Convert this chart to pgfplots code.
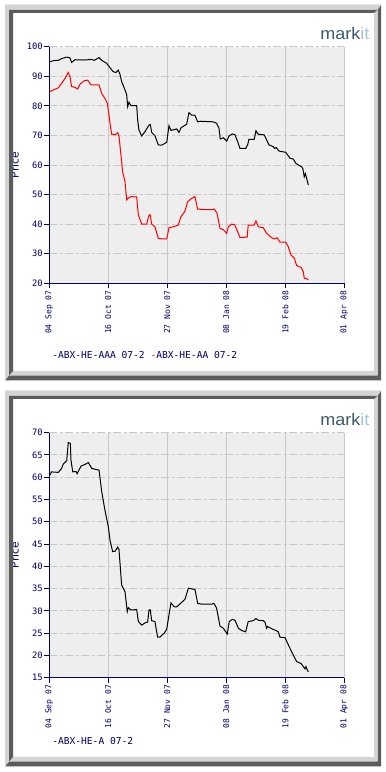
\documentclass[border=0pt]{standalone}
\usepackage{fontspec}
\setmainfont{DejaVu Sans}
\setmonofont{DejaVu Sans Mono}
\newfontfamily\logofont{Liberation Sans}
\usepackage{pgfplots}
\pgfplotsset{compat=1.18}
\definecolor{navy}{RGB}{0,0,102}
\definecolor{plotbg}{RGB}{238,238,238}
\definecolor{gridc}{RGB}{200,200,200}
\definecolor{frL}{RGB}{212,212,212}
\definecolor{frD}{RGB}{92,92,92}
\definecolor{logoA}{RGB}{60,90,107}
\definecolor{logoB}{RGB}{166,197,207}
\pgfplotsset{markitstyle/.style={
  scale only axis, width=221.25pt,
  xmin=0, xmax=210, xtick={0,42,84,126,168,210},
  xticklabels={04 Sep 07,16 Oct 07,27 Nov 07,08 Jan 08,19 Feb 08,01 Apr 08},
  axis x line*=bottom, axis y line*=left,
  axis line style={-, navy, line width=0.75pt},
  tick style={navy, line width=0.75pt},
  major tick length=3.75pt, tick align=outside,
  xmajorgrids, ymajorgrids,
  x grid style={gridc, line width=0.75pt, solid},
  y grid style={gridc, line width=0.75pt, dash pattern=on 6pt off 2pt on 2pt off 2pt},
  axis background/.style={fill=plotbg},
  /pgf/number format/assume math mode=true,
  x tick label style={font=\ttfamily\fontsize{6}{7}\selectfont, text=navy, rotate=90, anchor=east, inner sep=1.5pt},
  y tick label style={font=\ttfamily\fontsize{6.6}{7}\selectfont, text=navy, inner sep=1pt},
  clip=true,
}}
\newcommand\panelframe[1]{%
  \begin{scope}[shift={(0,#1)}]
    \fill[frD,even odd rule] (5,5) rectangle (381,380.5) (9,10) rectangle (377.5,375.5);
    \fill[frL] (5,380.5) -- (5,5) -- (381,5) -- (377.5,10) -- (9,10) -- (9,375.5) -- cycle;
    \fill[frL,even odd rule] (9,10) rectangle (377.5,375.5) (13,13) rectangle (374,371);
    \fill[frD] (9,375.5) -- (9,10) -- (377.5,10) -- (374,13) -- (13,13) -- (13,371) -- cycle;
  \end{scope}}
\begin{document}
\begin{tikzpicture}
\useasboundingbox (0,0) rectangle (289.5pt,579pt);
\fill[white] (0,0) rectangle (289.5pt,579pt);

% ---------- top panel ----------
\begin{axis}[markitstyle, at={(36.975pt,366.525pt)}, anchor=south west,
  height=177.45pt, ymin=20, ymax=100, ytick={20,30,...,100}]
\addplot[black, line width=0.75pt] coordinates {
(0.5,94.9)(3,95.3)(6.4,95.4)(9,96.0)(12.4,96.5)(14.7,96.2)(15.9,94.7)(18.3,95.6)
(24,95.5)(27.8,95.6)(29.9,95.7)(32,95.4)(35.4,96.3)(37.3,95.4)(40.8,94.4)(43.2,92.9)
(45.6,91.5)(47.5,91.3)(49.1,92.1)(50.3,90.7)(51.5,88.2)(53.9,85.4)(55.1,83.7)(55.8,79.7)
(56.7,81.2)(58.2,80.1)(62.2,80.1)(62.9,75.2)(63.8,71.8)(65.8,69.8)(68.1,71.3)(71,73.5)
(71.9,73.7)(72.9,71.0)(75.2,69.9)(77.6,66.8)(80,66.7)(83.6,67.7)(85.2,73.3)(86.6,71.7)
(90.7,72.2)(92.3,71.0)(93.8,72.6)(97.8,73.8)(99.4,77.7)(101.3,76.9)(103.7,76.8)(105.6,74.6)
(107.4,74.8)(116.7,74.6)(119.1,74.1)(120.8,72.4)(121.7,68.8)(123.9,69.2)(126.3,68.1)(128.1,69.9)
(130.3,70.5)(132.2,70.2)(134.1,67.9)(135.7,65.6)(139.8,65.6)(141.2,66.8)(142.1,68.7)(145.9,68.7)
(147.1,71.6)(148.8,70.4)(153,70.2)(154.7,68.5)(156.4,66.8)(159.5,66.2)(160.3,65.6)(161.5,65.9)
(163.5,64.7)(165.9,64.5)(168.3,64.3)(171.3,62.3)(173.7,62.0)(175.4,60.6)(177.3,60.0)(179.6,59.4)
(180.5,58.8)(181.5,56.0)(182.3,57.1)(183.2,55.5)(184.4,53.2)};
\addplot[red, line width=0.75pt] coordinates {
(0.5,84.8)(2.5,85.3)(6.4,86.1)(8.8,87.6)(11.2,89.3)(13.5,91.3)(14.7,89.9)(15.9,86.5)
(18,86.3)(20.2,85.7)(21.8,87.3)(24.9,88.5)(27.3,88.7)(29.7,87.1)(35.4,87.1)(37.3,84.2)
(39.6,82.5)(41.3,80.9)(42.5,76.9)(43.4,73.5)(44.4,70.4)(46.7,70.2)(48.7,70.9)(49.6,69.8)
(51,63.4)(52.2,57.7)(53.9,54.4)(55.1,48.2)(56,48.7)(58.2,49.3)(62.2,49.2)(63.4,43.1)
(65.8,40.0)(69.3,40.0)(71,43.1)(71.9,43.1)(72.9,40.0)(75.2,39.1)(77.6,35.2)(80.4,35.0)
(83.6,35.0)(85.2,38.8)(88.3,39.1)(91.8,39.7)(93.7,42.5)(96.6,44.4)(98.5,47.6)(101.3,48.7)
(103.7,49.3)(105.6,45.1)(110.8,44.9)(115.5,44.9)(117.4,45.1)(119.4,43.7)(121.5,38.6)(123.9,38.1)
(126.3,36.9)(127.4,39.1)(129.8,40.0)(132,39.8)(134.1,37.4)(135.7,35.5)(140.9,35.6)(141.6,39.7)
(145.9,39.7)(147.1,41.1)(148.8,39.1)(152.3,38.8)(154.7,36.9)(158.3,35.4)(160.3,35.0)(162.2,35.4)
(164.2,33.9)(168.3,33.9)(170.1,32.4)(172,29.6)(174.4,28.5)(176.1,26.0)(179.2,25.4)(180.8,23.9)
(181.5,21.7)(182.7,21.7)(184.4,21.1)};
\end{axis}

% ---------- bottom panel ----------
\begin{axis}[markitstyle, at={(36.975pt,70.725pt)}, anchor=south west,
  height=183.75pt, ymin=15, ymax=70, ytick={15,20,...,70}]
\addplot[black, line width=0.75pt] coordinates {
(0.5,60.5)(1.5,61.2)(6.4,61.1)(8.8,62.0)(10,63.0)(12.4,63.7)(13.5,67.8)(15,67.6)
(15.4,63.9)(16.7,61.2)(19,61.3)(19.8,60.8)(22.6,62.5)(25.5,62.9)(27.8,63.3)(30.2,62.0)
(32.5,61.8)(35.4,61.6)(37.3,56.8)(39.6,52.6)(42,48.9)(43.2,45.9)(45.1,43.3)(46.8,43.4)
(48.7,44.3)(49.6,43.8)(51.5,35.8)(53.9,34.3)(55.5,29.8)(56.3,30.7)(58.2,30.2)(62.2,30.3)
(63.4,27.6)(65.8,26.8)(68.1,27.3)(70,27.5)(71,30.2)(71.9,30.2)(72.9,27.8)(75.2,27.6)
(77.1,24.1)(78.7,24.1)(81.8,25.0)(83.6,25.9)(85.2,29.1)(86.6,31.8)(89,30.9)(90.7,30.9)
(96.6,32.6)(99,35.1)(103.7,34.8)(105.6,31.7)(108.5,31.5)(115.6,31.5)(117.2,31.7)(119.1,30.6)
(121.5,26.6)(123.9,26.1)(125.6,25.3)(126.7,24.8)(128.1,27.6)(130.3,28.1)(132.2,27.9)(134.6,26.1)
(137,25.6)(139.8,25.3)(141.6,27.6)(145.2,27.8)(147.1,28.3)(148.8,27.9)(152.3,27.8)(153.5,27.5)
(154.7,26.1)(155.4,26.5)(158.3,26.0)(161.9,25.5)(163,25.3)(164.2,24.1)(167.8,24.0)(169.7,22.7)
(172.5,20.8)(176.1,18.6)(179.2,18.2)(180.8,17.5)(182,17.0)(182.7,17.5)(183.4,16.9)(184.4,16.3)};
\end{axis}

% ---------- texts ----------
\node[rotate=90, anchor=base, inner sep=0pt, text=navy, font=\fontsize{8}{9}\selectfont] at (13.9pt,455.25pt) {Price};
\node[rotate=90, anchor=base, inner sep=0pt, text=navy, font=\fontsize{8}{9}\selectfont] at (13.9pt,162.75pt) {Price};
\node[anchor=base west, inner sep=0pt, text=navy, font=\ttfamily\fontsize{7.2}{8}\selectfont] at (39pt,309.75pt) {\textcolor{black}{-}ABX-HE-AAA 07-2 \textcolor{red}{-}ABX-HE-AA 07-2};
\node[anchor=base west, inner sep=0pt, text=navy, font=\ttfamily\fontsize{7.2}{8}\selectfont] at (39pt,20.25pt) {\textcolor{black}{-}ABX-HE-A 07-2};
\node[anchor=base west, inner sep=0pt, xscale=1.08, font=\logofont\fontsize{12.5}{13}\selectfont] at (240pt,549.4pt) {\textcolor{logoA}{mark}\textcolor{logoB}{it}};
\node[anchor=base west, inner sep=0pt, xscale=1.08, font=\logofont\fontsize{12.5}{13}\selectfont] at (240pt,260pt) {\textcolor{logoA}{mark}\textcolor{logoB}{it}};

% ---------- frames ----------
\begin{scope}[shift={(0,579pt)}, x=0.75pt, y=-0.75pt]
  \panelframe{0}
  \panelframe{386}
\end{scope}
\end{tikzpicture}
\end{document}
